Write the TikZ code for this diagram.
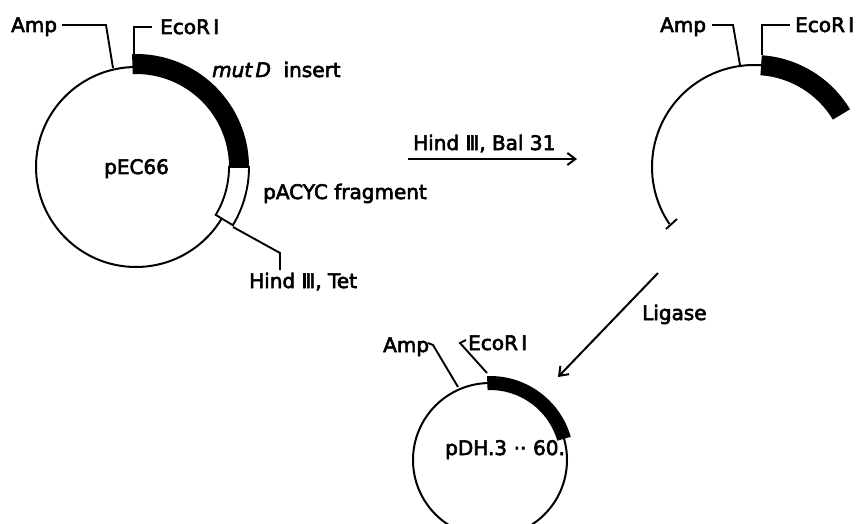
\documentclass[tikz,border=0pt]{standalone}
\usepackage{fontspec}
\setmainfont{DejaVu Sans}
\newfontfamily\lblfont{DejaVu Sans}[FakeBold=3]
\newfontfamily\lblitfont{DejaVu Sans Oblique}[FakeBold=3]
\usetikzlibrary{arrows.meta}
\begin{document}
\begin{tikzpicture}[x=1pt,y=1pt,
  thin line/.style={line width=2pt},
  lbl/.style={font=\lblfont\fontsize{20}{23}\selectfont, inner sep=0pt, anchor=base west},
  leader/.style={line width=1.9pt},
  band/.style={fill=black},
  openband/.style={fill=white, draw=black, line width=1.9pt},
  procarrow/.style={line width=2pt, -{Straight Barb[length=8pt,width=12pt,line width=2pt]}}]
\useasboundingbox (0,0) rectangle (862,-524);
\fill[white] (0,0) rectangle (862,-524);

% ---------- plasmid pEC66 ----------
\coordinate (c1) at (136,-167);
\draw[thin line] (c1) circle (100);
\fill[band] ([shift={(92:93)}]c1) arc[start angle=92,end angle=0,radius=93]
   -- ([shift={(0:113)}]c1) arc[start angle=0,end angle=92,radius=113] -- cycle;
\draw[openband] ([shift={(0:93)}]c1) arc[start angle=0,end angle=-31,radius=93]
   -- ([shift={(-31:113)}]c1) arc[start angle=-31,end angle=0,radius=113] -- cycle;
\node[lbl] (name1) at (104,-174) {pEC66};
\node[lbl] (amp1) at (11,-32) {Amp};
\node[lbl] (eco1) at (160,-34) {EcoR\,I};
\node[lbl] (mut1) at (212,-77) {{\lblitfont mut\,D}\ \ insert};
\node[lbl] (pacyc) at (263,-199) {pACYC fragment};
\node[lbl] (hind1) at (249,-288) {Hind Ⅲ, Tet};
\coordinate (a1s) at (113,-68);
\coordinate (a1m) at (106,-25);
\coordinate (a1e) at (62,-25);
\draw[leader] (a1s) -- (a1m) -- (a1e);
\coordinate (e1s) at (134,-55);
\coordinate (e1m) at (134,-27);
\coordinate (e1e) at (152,-27);
\draw[leader] (e1s) -- (e1m) -- (e1e);
\coordinate (h1s) at (233,-227);
\coordinate (h1m) at (280,-253);
\coordinate (h1e) at (280,-270);
\draw[leader] (h1s) -- (h1m) -- (h1e);

% ---------- arrow Hind III, Bal 31 ----------
\node[lbl] (digest) at (413,-150) {Hind Ⅲ, Bal 31};
\coordinate (d1) at (408,-159);
\coordinate (d2) at (577,-159);
\draw[procarrow] (d1) -- (d2);

% ---------- opened plasmid ----------
\coordinate (c2) at (754,-167);
\draw[thin line] ([shift={(214:102)}]c2) arc[start angle=214,end angle=85,radius=102];
\fill[band] ([shift={(86:92)}]c2) arc[start angle=86,end angle=31,radius=92]
   -- ([shift={(31:112)}]c2) arc[start angle=31,end angle=86,radius=112] -- cycle;
\coordinate (t1) at (666,-229);
\coordinate (t2) at (677,-219);
\draw[leader] (t1) -- (t2);
\node[lbl] (amp2) at (660,-32) {Amp};
\node[lbl] (eco2) at (795,-32) {EcoR\,I};
\coordinate (a2s) at (740,-65);
\coordinate (a2m) at (733,-25);
\coordinate (a2e) at (712,-25);
\draw[leader] (a2s) -- (a2m) -- (a2e);
\coordinate (e2s) at (762,-55);
\coordinate (e2m) at (762,-25);
\coordinate (e2e) at (790,-25);
\draw[leader] (e2s) -- (e2m) -- (e2e);

% ---------- ligase arrow ----------
\coordinate (l1) at (658,-273);
\coordinate (l2) at (558,-377);
\draw[procarrow] (l1) -- (l2);
\node[lbl] (lig) at (642,-320) {Ligase};

% ---------- plasmid pDH3..60 ----------
\coordinate (c3) at (490,-460);
\draw[thin line] (c3) circle (77);
\fill[band] ([shift={(92:70)}]c3) arc[start angle=92,end angle=16,radius=70]
   -- ([shift={(16:84)}]c3) arc[start angle=16,end angle=92,radius=84] -- cycle;
\node[lbl] (name3) at (445,-455) {pDH.3\,\,··\,\,60.};
\node[lbl] (amp3) at (383,-352) {Amp};
\node[lbl] (eco3) at (468,-350) {EcoR\,I};
\coordinate (a3s) at (458,-387);
\coordinate (a3m) at (433,-345);
\coordinate (a3e) at (428,-343);
\draw[leader] (a3s) -- (a3m) -- (a3e);
\coordinate (e3s) at (487,-373);
\coordinate (e3m) at (460,-343);
\coordinate (e3e) at (466,-340);
\draw[leader] (e3s) -- (e3m) -- (e3e);
\end{tikzpicture}
\end{document}
